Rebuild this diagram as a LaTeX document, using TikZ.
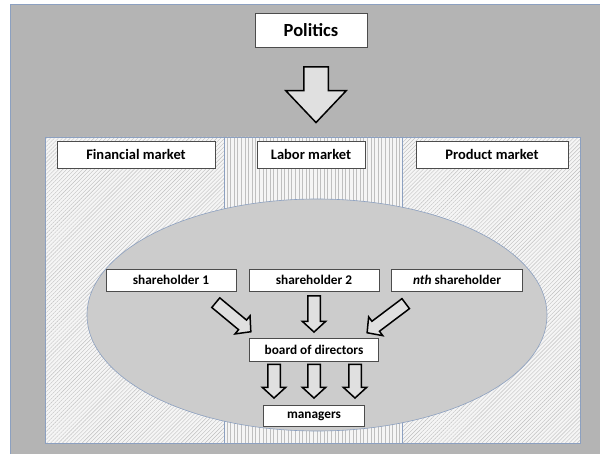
\documentclass[tikz,border=0pt]{standalone}
\usepackage{fontspec}
\setmainfont{Carlito}
\usetikzlibrary{shapes.arrows,patterns.meta,calc}
\definecolor{bggray}{RGB}{180,180,180}
\definecolor{ovalgray}{RGB}{204,204,204}
\definecolor{edgeblue}{RGB}{140,160,192}
\definecolor{arrowfill}{RGB}{224,224,224}

\begin{document}
\begin{tikzpicture}[x=1pt,y=-1pt,semithick,node distance=143pt]
\tikzstyle{every node}=[font=\bfseries\fontsize{13.3}{15}\selectfont]
\tikzstyle{label box}=[draw=black!70,fill=white,thin,inner sep=0pt]
\tikzstyle{market}=[draw=edgeblue,preaction={fill=white!96!black},pattern color=black!25]
\tikzstyle{block}=[single arrow,draw=black,line width=1.5pt,fill=arrowfill,inner xsep=0pt,
  inner ysep=5.5pt,single arrow head extend=5.5pt,single arrow tip angle=95,
  sloped,allow upside down,anchor=tail,pos=0]
\tikzstyle{fat}=[to path={let \p1=($(\tikztotarget)-(\tikztostart)$), \n1={veclen(\x1,\y1)}
  in (\tikztostart) -- (\tikztotarget) node[block,minimum height=\n1] {}}]

\useasboundingbox (0,0) rectangle (600,454);
\fill[white] (0,0) rectangle (600,454);
\fill[bggray] (10,4) rectangle (600,454);
\draw[edgeblue] (10,454) -- (10,4) -- (600,4);

% markets
\draw[market,pattern={Lines[angle=45,distance=2.8pt,line width=0.4pt]}] (45,137) rectangle (224,443);
\draw[market,pattern={Lines[angle=90,distance=3.6pt,line width=0.4pt]}] (224,137) rectangle (402,443);
\draw[market,pattern={Lines[angle=45,distance=2.8pt,line width=0.4pt]}] (402,137) rectangle (580,443);
\draw[edgeblue,fill=ovalgray] (317,315) ellipse [x radius=230, y radius=116];

\node [label box,minimum width=112pt,minimum height=34pt,font=\bfseries\fontsize{18.5}{21}\selectfont] (politics) at (311,30) {Politics};
\node [label box,minimum width=158pt,minimum height=27pt,font=\bfseries\fontsize{14.5}{17}\selectfont] (finance) at (136,154.5) {Financial market};
\node [label box,minimum width=108pt,minimum height=27pt,font=\bfseries\fontsize{14.5}{17}\selectfont] (labor) at (311,154.5) {Labor market};
\node [label box,minimum width=152pt,minimum height=27pt,font=\bfseries\fontsize{14.5}{17}\selectfont] (product) at (492,154.5) {Product market};

\node [label box,minimum width=130pt,minimum height=22pt] (sh1) at (171,280) {shareholder 1};
\node [label box,minimum width=130pt,minimum height=22pt] [right of=sh1] (sh2) {shareholder 2};
\node [label box,minimum width=131pt,minimum height=22pt] [right of=sh2] (shn) {\textit{nth} shareholder};
\node [label box,minimum width=129pt,minimum height=23pt] [below of=sh2,node distance=70pt] (board) {board of directors};
\node [label box,minimum width=101pt,minimum height=21pt] [below of=board,node distance=66pt] (managers) {managers};

\path[block/.append style={inner ysep=11.5pt,single arrow head extend=18pt,single arrow tip angle=87}]
  ([xshift=5pt,yshift=-19pt]politics.south) to[fat] ([xshift=5pt,yshift=19pt]labor.north);

\path ([xshift=-21pt,yshift=-11pt]sh1.south east) to[fat] ([xshift=1pt,yshift=7pt]board.north west);
\path ([yshift=-4pt]sh2.south) to[fat] ([yshift=7pt]board.north);
\path ([xshift=15pt,yshift=-12pt]shn.south west) to[fat] ([xshift=-11pt,yshift=6pt]board.north east);

\foreach \dx in {-40,0,41}
  \path ([xshift=\dx pt,yshift=-2pt]board.south) to[fat] ([xshift=\dx pt,yshift=8pt]managers.north);

\end{tikzpicture}
\end{document}
